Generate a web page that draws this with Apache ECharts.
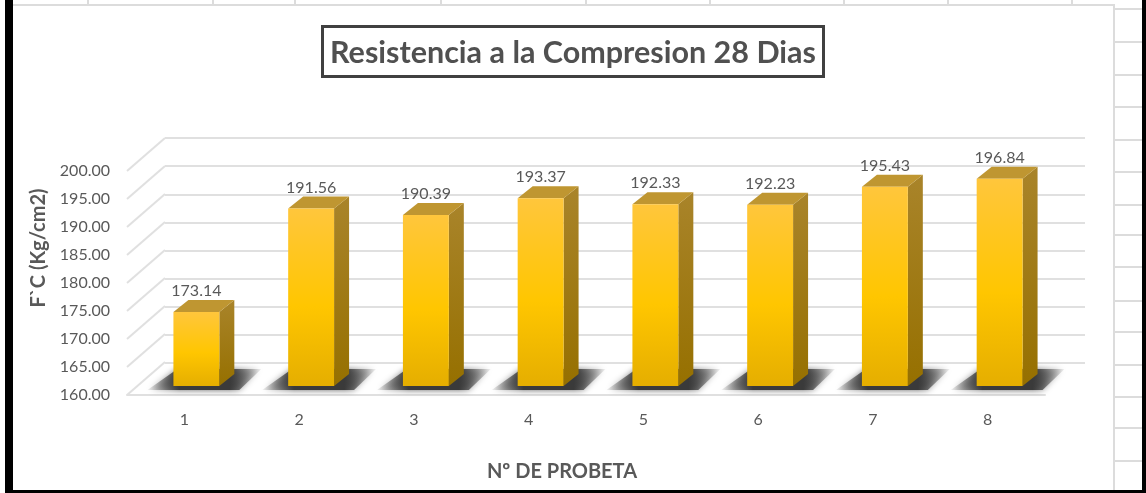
<!DOCTYPE html>
<html>
<head>
<meta charset="utf-8">
<title>Resistencia a la Compresion 28 Dias</title>
<script src="https://cdn.jsdelivr.net/npm/echarts@6/dist/echarts.min.js"></script>
<style>
html, body { margin: 0; padding: 0; background: #fff; }
#chartMain { width: 1146px; height: 493px; filter: blur(0.7px); }
</style>
</head>
<body>
<div id="chartMain"></div>
<script>
var categories = ['1', '2', '3', '4', '5', '6', '7', '8'];
var strength = [173.14, 191.56, 190.39, 193.37, 192.33, 192.23, 195.43, 196.84];
var yTicks = [160, 165, 170, 175, 180, 185, 190, 195, 200];
var sheetColumns = [88, 213, 295, 441, 586, 710, 844, 948, 1072];
var sheetRows = [9, 42, 75, 107, 140, 172, 205, 235, 267, 301, 332, 365, 397, 428, 461];

var textColor = '#595959';
var fontName = 'Lato';

var myChart = echarts.init(document.getElementById('chartMain'));

// 3d look: depth of the bars and of the floor, in px
var barDepthX = 15, barDepthY = 12;
var wallDepthX = 38, wallDepthY = 33;

function renderShadow(params, api) {
	var base = api.coord([api.value(0), 160]);
	var w = api.size([1, 0])[0] * 0.4;
	var l = base[0] - w / 2, r = base[0] + w / 2, y = base[1];
	return {
		type: 'polygon',
		shape: { points: [[l - 26, y + 4], [r + 20, y + 4], [r + 42, y - 17], [l + 4, y - 17]] },
		style: {
			fill: new echarts.graphic.LinearGradient(0, 0, 1, 0, [
				{ offset: 0, color: 'rgba(60,60,60,0.05)' },
				{ offset: 0.28, color: '#3a3a3a' },
				{ offset: 0.72, color: '#3a3a3a' },
				{ offset: 1, color: 'rgba(60,60,60,0.05)' }
			]),
			shadowBlur: 6,
			shadowColor: 'rgba(60,60,60,0.8)'
		}
	};
}

function renderBar(params, api) {
	var val = api.value(1);
	var top = api.coord([api.value(0), val]);
	var base = api.coord([api.value(0), 160]);
	var w = api.size([1, 0])[0] * 0.4;
	var l = top[0] - w / 2, r = top[0] + w / 2;
	return {
		type: 'group',
		children: [{
			type: 'polygon',
			shape: { points: [[r, top[1]], [r + barDepthX, top[1] - barDepthY], [r + barDepthX, base[1] - barDepthY], [r, base[1]]] },
			style: {
				fill: new echarts.graphic.LinearGradient(0, 0, 0, 1, [
					{ offset: 0, color: '#a9842a' },
					{ offset: 1, color: '#967000' }
				])
			}
		}, {
			type: 'polygon',
			shape: { points: [[l, top[1]], [l + barDepthX, top[1] - barDepthY], [r + barDepthX, top[1] - barDepthY], [r, top[1]]] },
			style: { fill: '#bf9631' }
		}, {
			type: 'rect',
			shape: { x: l, y: top[1], width: w, height: base[1] - top[1] },
			style: {
				fill: new echarts.graphic.LinearGradient(0, 0, 0, 1, [
					{ offset: 0, color: '#ffc63c' },
					{ offset: 0.55, color: '#ffc600' },
					{ offset: 1, color: '#e5ae00' }
				])
			}
		}, {
			type: 'text',
			style: {
				x: top[0],
				y: top[1] - 21,
				text: val.toFixed(2),
				fill: textColor,
				font: '16px Lato',
				align: 'center',
				verticalAlign: 'middle'
			}
		}]
	};
}

function renderSideLine(params, api) {
	var p = api.coord([0, api.value(0)]);
	return {
		type: 'line',
		shape: { x1: 127, y1: p[1], x2: 127 + wallDepthX, y2: p[1] - wallDepthY },
		style: { stroke: '#e0e0e0', lineWidth: 2 }
	};
}

// the spreadsheet behind the chart
var sheet = [];
sheetColumns.forEach(function(x) {
	sheet.push({ type: 'line', shape: { x1: x, y1: 0, x2: x, y2: 5 }, style: { stroke: '#dcdcdc', lineWidth: 2 } });
});
sheetRows.forEach(function(y) {
	sheet.push({ type: 'line', shape: { x1: 1114, y1: y, x2: 1142, y2: y }, style: { stroke: '#dcdcdc', lineWidth: 2 } });
});
sheet.push({ type: 'polyline', shape: { points: [[13, 5], [1114, 5], [1114, 490]] }, style: { fill: null, stroke: '#dcdcdc', lineWidth: 2 } });
sheet.push({ type: 'rect', shape: { x: 5, y: 0, width: 8, height: 493 }, style: { fill: '#000' } });
sheet.push({ type: 'rect', shape: { x: 1142, y: 0, width: 4, height: 493 }, style: { fill: '#000' } });
sheet.push({ type: 'rect', shape: { x: 5, y: 490, width: 1141, height: 3 }, style: { fill: '#000' } });

var option = {
	animation: false,
	backgroundColor: '#fff',
	graphic: sheet,
	title: {
		text: 'Resistencia a la Compresion 28 Dias',
		left: 'center',
		top: 26,
		padding: [12, 8, 8, 8],
		borderWidth: 3,
		borderColor: '#404040',
		backgroundColor: '#fff',
		textStyle: { color: '#505050', fontFamily: fontName, fontWeight: 'bold', fontSize: 30.5 }
	},
	grid: [
		{ left: 165, top: 138, width: 920, height: 225 }, // back wall
		{ left: 139, top: 161, width: 918, height: 225 }, // bars
		{ left: 127, top: 171, width: 918, height: 224 }  // front axes
	],
	xAxis: [
		{ gridIndex: 0, type: 'category', data: categories, show: false },
		{ gridIndex: 1, type: 'category', data: categories, show: false },
		{
			gridIndex: 2,
			type: 'category',
			data: categories,
			name: 'Nº DE PROBETA',
			nameLocation: 'middle',
			nameGap: 67,
			// title sits left of the axis middle in the original
			nameTextStyle: { color: textColor, fontFamily: fontName, fontWeight: 'bold', fontSize: 20, padding: [0, 48, 0, 0] },
			axisTick: { show: false },
			axisLine: { lineStyle: { color: '#e0e0e0', width: 2 } },
			axisLabel: { color: textColor, fontFamily: fontName, fontSize: 16, margin: 17 }
		}
	],
	yAxis: [
		{
			gridIndex: 0, type: 'value', min: 160, max: 200, interval: 5,
			axisLine: { show: false }, axisTick: { show: false }, axisLabel: { show: false },
			splitLine: { lineStyle: { color: '#e0e0e0', width: 2 } }
		},
		{ gridIndex: 1, type: 'value', min: 160, max: 200, interval: 5, show: false },
		{
			gridIndex: 2, type: 'value', min: 160, max: 200, interval: 5,
			name: 'F`C (Kg/cm2)',
			nameLocation: 'middle',
			nameGap: 70,
			nameTextStyle: { color: textColor, fontFamily: fontName, fontWeight: 'bold', fontSize: 20, padding: [0, 0, 0, 70] },
			axisLine: { show: false },
			axisTick: { show: false },
			splitLine: { show: false },
			axisLabel: {
				color: textColor, fontFamily: fontName, fontSize: 16, margin: 17,
				formatter: function(v) { return v.toFixed(2); }
			}
		}
	],
	series: [
		{
			type: 'custom',
			xAxisIndex: 2,
			yAxisIndex: 2,
			z: 1,
			data: yTicks.map(function(v) { return [v]; }),
			encode: { y: 0 },
			renderItem: renderSideLine,
			silent: true
		},
		{
			type: 'custom',
			xAxisIndex: 1,
			yAxisIndex: 1,
			z: 2,
			data: strength.map(function(v, i) { return [i, v]; }),
			renderItem: renderShadow,
			silent: true
		},
		{
			type: 'custom',
			xAxisIndex: 1,
			yAxisIndex: 1,
			z: 3,
			data: strength.map(function(v, i) { return [i, v]; }),
			encode: { x: 0, y: 1 },
			renderItem: renderBar
		}
	]
};

myChart.setOption(option);
</script>
</body>
</html>
